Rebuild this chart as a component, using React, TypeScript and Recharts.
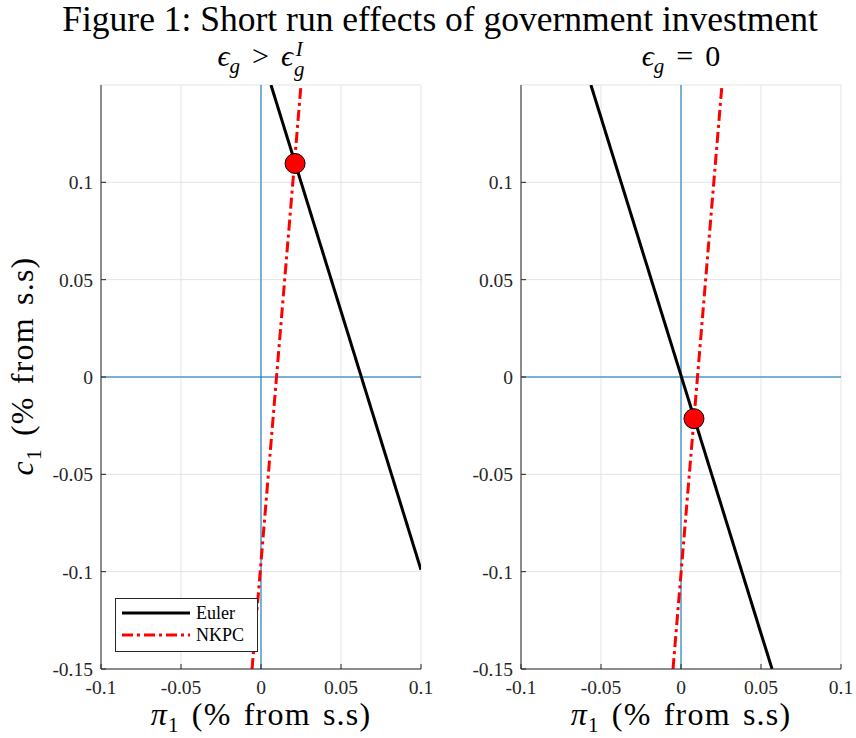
import React from "react";
import { LineChart, Line, XAxis, YAxis, CartesianGrid, ReferenceLine, ReferenceDot } from "recharts";

// axis ticks
const xTicks = [-0.1, -0.05, 0, 0.05, 0.1];
const xTickLabels = ["-0.1", "-0.05", "0", "0.05", "0.1"];
const yTicks = [-0.15, -0.1, -0.05, 0, 0.05, 0.1];
const yTickLabels = ["-0.15", "-0.1", "-0.05", "0", "0.05", "0.1"];

// left panel: eps_g > eps_g^I
const leftEulerX = [0.00625, 0.1];
const leftEulerY = [0.15, -0.099];
const leftNkpcX = [-0.0056, 0.025];
const leftNkpcY = [-0.15, 0.15];
const leftEq = [0.0213, 0.1097];

// right panel: eps_g = 0
const rightEulerX = [-0.0563, 0.0569];
const rightEulerY = [0.15, -0.15];
const rightNkpcX = [-0.005, 0.0256];
const rightNkpcY = [-0.15, 0.15];
const rightEq = [0.0081, -0.0214];

const SERIF = "'Liberation Serif', 'DejaVu Serif', serif";
const BLUE = "#0072BD";

const zip = (xs: number[], ys: number[]) => xs.map((x, i) => ({ x, y: ys[i] }));

function fmt(labels: string[], ticks: number[]) {
  return (v: number) => {
    const i = ticks.findIndex((t) => Math.abs(t - v) < 1e-9);
    return i >= 0 ? labels[i] : String(v);
  };
}

function Panel({ euler, nkpc, eq }: { euler: { x: number; y: number }[]; nkpc: { x: number; y: number }[]; eq: number[] }) {
  const tickStyle = { fontFamily: SERIF, fontSize: 19.5, fill: "#262626" };
  return (
    <LineChart width={440} height={738} margin={{ top: 85, right: 19, bottom: 0, left: 41 }}>
      <CartesianGrid stroke="#e3e3e3" strokeWidth={1} />
      <XAxis
        type="number"
        dataKey="x"
        domain={[-0.1, 0.1]}
        ticks={xTicks}
        tickFormatter={fmt(xTickLabels, xTicks)}
        allowDataOverflow
        height={69}
        tickSize={-5}
        tickMargin={16}
        tick={tickStyle}
        stroke="#262626"
        interval={0}
      />
      <YAxis
        type="number"
        dataKey="y"
        domain={[-0.15, 0.15]}
        ticks={yTicks}
        tickFormatter={fmt(yTickLabels, yTicks)}
        allowDataOverflow
        width={60}
        tickSize={-5}
        tickMargin={13}
        tick={tickStyle}
        stroke="#262626"
        interval={0}
      />
      <ReferenceLine x={0} stroke={BLUE} strokeWidth={1} />
      <ReferenceLine y={0} stroke={BLUE} strokeWidth={1} />
      <Line data={euler} dataKey="y" stroke="#000" strokeWidth={3} dot={false} isAnimationActive={false} />
      <Line
        data={nkpc}
        dataKey="y"
        stroke="#ff0000"
        strokeWidth={3}
        strokeDasharray="11 4 3 4"
        dot={false}
        isAnimationActive={false}
      />
      <ReferenceDot x={eq[0]} y={eq[1]} r={10} fill="#ff0000" stroke="#000" strokeWidth={1} />
    </LineChart>
  );
}

function Eps() {
  return <span style={{ fontStyle: "italic" }}>ϵ</span>;
}

export default function App() {
  const labelStyle: React.CSSProperties = { position: "absolute", fontFamily: SERIF, fontSize: 30, color: "#000", whiteSpace: "nowrap", lineHeight: "normal" };
  const axisLabel: React.CSSProperties = { ...labelStyle, fontSize: 32, lineHeight: "32px", letterSpacing: 1.2, wordSpacing: 3 };
  const op: React.CSSProperties = { margin: "0 12px" };
  return (
    <div style={{ position: "absolute", left: 0, top: 0, width: 856, height: 738, background: "#fff", overflow: "hidden" }}>
      <div style={{ position: "absolute", left: 0, top: 0 }}>
        <Panel euler={zip(leftEulerX, leftEulerY)} nkpc={zip(leftNkpcX, leftNkpcY)} eq={leftEq} />
      </div>
      <div style={{ position: "absolute", left: 420, top: 0 }}>
        <Panel euler={zip(rightEulerX, rightEulerY)} nkpc={zip(rightNkpcX, rightNkpcY)} eq={rightEq} />
      </div>

      {/* figure title */}
      <div style={{ ...labelStyle, fontSize: 35.5, lineHeight: "38px", left: 0, width: 856, top: 0, textAlign: "center", paddingLeft: 12 }}>
        Figure 1: Short run effects of government investment
      </div>

      {/* panel titles */}
      <div style={{ ...labelStyle, fontSize: 30, left: 161, width: 200, top: 39, textAlign: "center" }}>
        <Eps />
        <sub style={{ fontStyle: "italic", fontSize: 21 }}>g</sub>
        <span style={op}>&gt;</span>
        <Eps />
        <span style={{ display: "inline-block", verticalAlign: "middle", lineHeight: "15px", fontSize: 21, fontStyle: "italic", marginLeft: 1 }}>
          <span style={{ display: "block" }}>I</span>
          <span style={{ display: "block", marginTop: 5 }}>g</span>
        </span>
      </div>
      <div style={{ ...labelStyle, fontSize: 30, left: 581, width: 200, top: 39, textAlign: "center" }}>
        <Eps />
        <sub style={{ fontStyle: "italic", fontSize: 21 }}>g</sub>
        <span style={op}>=</span>0
      </div>

      {/* y label */}
      <div
        style={{
          ...axisLabel,
          left: 28,
          top: 366,
          transform: "translate(-50%, -50%) rotate(-90deg)",
        }}
      >
        <span style={{ fontStyle: "italic" }}>c</span>
        <sub style={{ fontSize: 21 }}>1</sub> (% from s.s)
      </div>

      {/* x labels */}
      <div style={{ ...axisLabel, left: 111, width: 300, top: 698, textAlign: "center" }}>
        <span style={{ fontStyle: "italic" }}>π</span>
        <sub style={{ fontSize: 21 }}>1</sub> (% from s.s)
      </div>
      <div style={{ ...axisLabel, left: 531, width: 300, top: 698, textAlign: "center" }}>
        <span style={{ fontStyle: "italic" }}>π</span>
        <sub style={{ fontSize: 21 }}>1</sub> (% from s.s)
      </div>

      {/* legend */}
      <svg style={{ position: "absolute", left: 115, top: 598 }} width={143} height={54}>
        <rect x={0.5} y={0.5} width={142} height={53} fill="#fff" stroke="#262626" strokeWidth={1} />
        <line x1={7} y1={15} x2={75} y2={15} stroke="#000" strokeWidth={3} />
        <line x1={7} y1={37} x2={75} y2={37} stroke="#ff0000" strokeWidth={3} strokeDasharray="11 4 3 4" />
        <text x={81} y={21} fontFamily={SERIF} fontSize={18} fill="#000">Euler</text>
        <text x={81} y={43} fontFamily={SERIF} fontSize={18} fill="#000">NKPC</text>
      </svg>
    </div>
  );
}
